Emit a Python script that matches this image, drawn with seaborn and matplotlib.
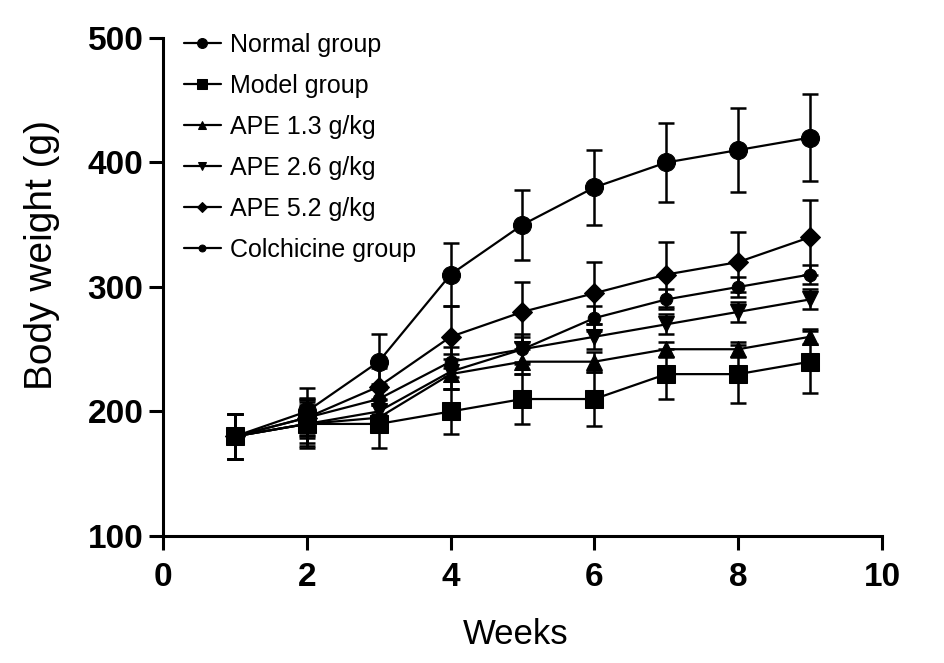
import numpy as np
import pandas as pd
import matplotlib
matplotlib.use("Agg")
import matplotlib.pyplot as plt
import seaborn as sns

# ---- data ----
weeks = [1, 2, 3, 4, 5, 6, 7, 8, 9]

groups = ["Normal group", "Model group", "APE 1.3 g/kg",
          "APE 2.6 g/kg", "APE 5.2 g/kg", "Colchicine group"]

normal_mean = [180, 200, 240, 310, 350, 380, 400, 410, 420]
normal_sd = [18, 19, 22, 25, 28, 30, 32, 34, 35]

model_mean = [180, 190, 190, 200, 210, 210, 230, 230, 240]
model_sd = [18, 19, 19, 18, 20, 22, 20, 23, 25]

ape13_mean = [180, 190, 195, 230, 240, 240, 250, 250, 260]
ape13_sd = [18, 18, 10, 12, 10, 8, 6, 6, 6]

ape26_mean = [180, 190, 200, 232, 250, 260, 270, 280, 290]
ape26_sd = [18, 15, 10, 14, 12, 10, 8, 8, 8]

ape52_mean = [180, 195, 220, 260, 280, 295, 310, 320, 340]
ape52_sd = [18, 16, 15, 25, 24, 25, 26, 24, 30]

colch_mean = [180, 195, 210, 240, 250, 275, 290, 300, 310]
colch_sd = [18, 15, 12, 12, 10, 10, 8, 8, 8]

means = [normal_mean, model_mean, ape13_mean, ape26_mean, ape52_mean, colch_mean]
sds = [normal_sd, model_sd, ape13_sd, ape26_sd, ape52_sd, colch_sd]

markers = ["o", "s", "^", "v", "D", "o"]
marker_sizes = [13, 13, 11, 11, 10, 9]

rows = []
for g, m, s in zip(groups, means, sds):
    for w, mv, sv in zip(weeks, m, s):
        rows.append({"Weeks": w, "Body weight": mv, "sd": sv, "group": g})
df = pd.DataFrame(rows)

# ---- plot ----
sns.set_style("ticks")
plt.rcParams["font.family"] = ["Liberation Sans", "DejaVu Sans"]
plt.rcParams["text.color"] = "black"
plt.rcParams["axes.labelcolor"] = "black"
plt.rcParams["xtick.color"] = "black"
plt.rcParams["ytick.color"] = "black"

fig = plt.figure(figsize=(9.45, 6.63), dpi=100)
ax = fig.add_axes([0.1725, 0.1916, 0.7608, 0.7511])

for g, mk, ms in zip(groups, markers, marker_sizes):
    sub = df[df["group"] == g]
    ax.errorbar(sub["Weeks"], sub["Body weight"], yerr=sub["sd"],
                fmt="none", ecolor="black", elinewidth=1.8,
                capsize=6, capthick=1.8, zorder=2)
    sns.lineplot(data=sub, x="Weeks", y="Body weight", ax=ax,
                 color="black", linewidth=1.6, marker=mk, markersize=ms,
                 markeredgecolor="black", label=g, zorder=3)

ax.set_xlim(0, 10)
ax.set_ylim(100, 500)
ax.set_xticks([0, 2, 4, 6, 8, 10])
ax.set_yticks([100, 200, 300, 400, 500])
ax.set_xlabel("Weeks", fontsize=25)
ax.set_ylabel("Body weight (g)", fontsize=28)
ax.xaxis.set_label_coords(0.491, -0.165)
ax.yaxis.set_label_coords(-0.143, 0.564)

for lab in ax.get_xticklabels() + ax.get_yticklabels():
    lab.set_fontweight("bold")
ax.tick_params(axis="both", labelsize=24, width=2.2, length=10,
               direction="out", color="black", labelcolor="black")
ax.tick_params(axis="x", pad=9)
ax.tick_params(axis="y", pad=4)

sns.despine(ax=ax)
for sp in ["left", "bottom"]:
    ax.spines[sp].set_linewidth(2.2)
    ax.spines[sp].set_color("black")

leg = ax.legend(loc="upper left", bbox_to_anchor=(0.015, 1.03), frameon=False,
                fontsize=18, markerscale=0.55, handlelength=1.48,
                handletextpad=0.36, labelspacing=0.68, borderaxespad=0.0)
for t in leg.get_texts():
    t.set_color("black")

fig.savefig("out.png", dpi=100)
